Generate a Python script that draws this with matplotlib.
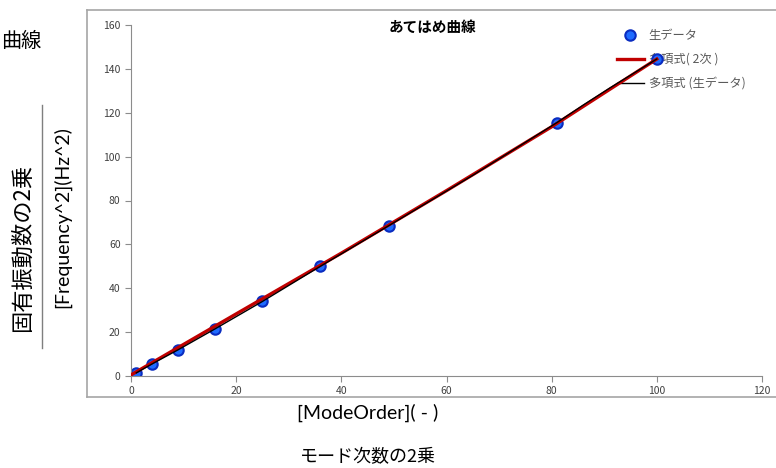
import matplotlib.pyplot as plt
from matplotlib.lines import Line2D

plt.rcParams['font.family'] = ['Noto Sans CJK JP', 'DejaVu Sans']

# raw data: mode order squared vs frequency squared
mode_sq = [1, 4, 9, 16, 25, 36, 49, 81, 100]
freq_sq = [1.4, 5.5, 12.0, 21.5, 34.0, 50.0, 68.5, 115.5, 144.5]

# quadratic fit curve
fit_x = [0, 20, 40, 60, 80, 100]
fit_y = [0.5, 28.3, 56.0, 84.5, 113.6, 144.5]

# polynomial through raw data
poly_x = [1, 4, 9, 16, 25, 36, 49, 65, 81, 86, 91, 96, 100]
poly_y = [1.4, 5.5, 12.0, 21.5, 34.0, 50.0, 68.5, 91.5, 115.5, 123.5, 131.2, 138.6, 144.5]

x_ticks = [0, 20, 40, 60, 80, 100, 120]
y_ticks = [0, 20, 40, 60, 80, 100, 120, 140, 160]

W, H = 776, 468
fig = plt.figure(figsize=(W / 100, H / 100), dpi=100)
ax = fig.add_axes([131 / W, 1 - 376 / H, (762 - 131) / W, (376 - 25) / H])

ax.plot(mode_sq, freq_sq, linestyle='None', marker='o', markersize=7.5,
        markerfacecolor='#1f6bff', markeredgecolor='#0a2cc0', markeredgewidth=1.5,
        label='生データ', zorder=2)
ax.plot(fit_x, fit_y, color='#c00000', linewidth=2.4, label='多項式( 2次 )', zorder=3)
ax.plot(poly_x, poly_y, color='black', linewidth=1.0, label='多項式 (生データ)', zorder=4)

ax.set_xlim(0, 120)
ax.set_ylim(0, 160)
ax.set_xticks(x_ticks)
ax.set_yticks(y_ticks)
for side in ['top', 'right']:
    ax.spines[side].set_visible(False)
for side in ['left', 'bottom']:
    ax.spines[side].set_color('#8c8c8c')
ax.tick_params(colors='#8c8c8c', labelcolor='#404040', labelsize=7.5, length=4, direction='out')

# chart title inside the plot area
fig.text(432 / W, 1 - 27 / H, 'あてはめ曲線', fontsize=10.5, fontweight='bold', ha='center', va='center')

leg = ax.legend(loc='upper left', bbox_to_anchor=(617 / W, 1 - 29 / H),
                bbox_transform=fig.transFigure, frameon=False, fontsize=8.8,
                handlelength=2.2, handletextpad=0.4, labelspacing=0.9,
                borderpad=0, borderaxespad=0)
for t in leg.get_texts():
    t.set_color('#595959')
leg.set_zorder(1)

# outer chart frame
frame_c = '#a6a6a6'
fig.add_artist(Line2D([87 / W, 87 / W], [1 - 10 / H, 1 - 397 / H], color=frame_c, lw=1.2))
fig.add_artist(Line2D([87 / W, 1.0], [1 - 10 / H, 1 - 10 / H], color=frame_c, lw=1.2))
fig.add_artist(Line2D([87 / W, 1.0], [1 - 397 / H, 1 - 397 / H], color=frame_c, lw=1.2))

# slide-level labels around the chart (only the visible tail of the left title)
fig.text(1 / W, 1 - 41 / H, '曲線', fontsize=14.5, ha='left', va='center')
fig.text(22 / W, 1 - 248 / H, '固有振動数の2乗', fontsize=16, rotation=90, ha='center', va='center')
fig.add_artist(Line2D([42 / W, 42 / W], [1 - 105 / H, 1 - 348 / H], color='#7f7f7f', lw=1))
fig.text(62 / W, 1 - 217 / H, '[Frequency^2](Hz^2)', fontsize=14, rotation=90,
         ha='center', va='center', family=['Lato', 'DejaVu Sans'])
fig.text(368 / W, 1 - 413 / H, '[ModeOrder]( - )', fontsize=14, ha='center', va='center',
         family=['Lato', 'DejaVu Sans'],
         bbox=dict(facecolor='white', edgecolor='none', pad=4))
fig.text(368 / W, 1 - 457 / H, 'モード次数の2乗', fontsize=13, ha='center', va='center')

fig.savefig('out.png', dpi=100)
